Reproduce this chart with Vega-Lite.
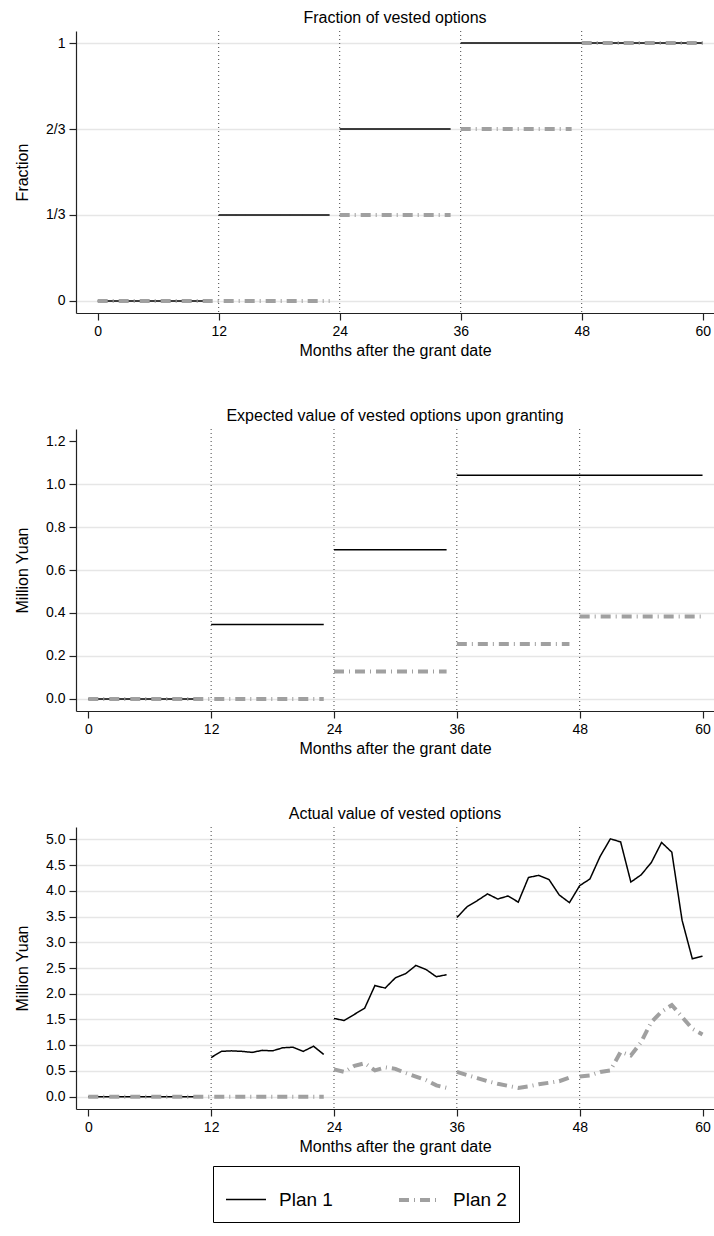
{
  "$schema": "https://vega.github.io/schema/vega-lite/v6.json",
  "background": "white",
  "padding": {"left": 14, "top": 9, "right": 0, "bottom": 10},
  "spacing": 49,
  "config": {
    "font": "Liberation Sans",
    "view": {"stroke": null},
    "title": {"fontSize": 16, "fontWeight": "normal", "color": "black", "offset": 5},
    "axis": {"labelFontSize": 14, "labelColor": "black", "titleFontSize": 16, "titleFontWeight": "normal", "titleColor": "black", "domainColor": "#222222", "tickColor": "#222222", "domainWidth": 1.2, "tickWidth": 1.2, "tickSize": 7, "labelPadding": 4},
    "axisX": {"grid": false, "titlePadding": 4, "labelFlush": false},
    "axisY": {"gridColor": "#e6e6e6", "gridWidth": 1.5, "titlePadding": 10, "minExtent": 36, "maxExtent": 36},
    "legend": {"orient": "none", "legendX": 137, "legendY": 1135, "direction": "horizontal", "strokeColor": "black", "padding": 12, "labelFontSize": 19, "labelColor": "black", "symbolSize": 1600, "columnPadding": 58, "labelOffset": 12}
  },
  "datasets": {
    "frac": [
      {"plan": "Plan 1", "seg": 1, "month": 0, "value": 0},
      {"plan": "Plan 1", "seg": 1, "month": 11, "value": 0},
      {"plan": "Plan 1", "seg": 2, "month": 12, "value": 0.3333333333333333},
      {"plan": "Plan 1", "seg": 2, "month": 23, "value": 0.3333333333333333},
      {"plan": "Plan 1", "seg": 3, "month": 24, "value": 0.6666666666666666},
      {"plan": "Plan 1", "seg": 3, "month": 35, "value": 0.6666666666666666},
      {"plan": "Plan 1", "seg": 4, "month": 36, "value": 1},
      {"plan": "Plan 1", "seg": 4, "month": 60, "value": 1},
      {"plan": "Plan 2", "seg": 1, "month": 0, "value": 0},
      {"plan": "Plan 2", "seg": 1, "month": 23, "value": 0},
      {"plan": "Plan 2", "seg": 2, "month": 24, "value": 0.3333333333333333},
      {"plan": "Plan 2", "seg": 2, "month": 35, "value": 0.3333333333333333},
      {"plan": "Plan 2", "seg": 3, "month": 36, "value": 0.6666666666666666},
      {"plan": "Plan 2", "seg": 3, "month": 47, "value": 0.6666666666666666},
      {"plan": "Plan 2", "seg": 4, "month": 48, "value": 1},
      {"plan": "Plan 2", "seg": 4, "month": 60, "value": 1}
    ],
    "expected": [
      {"plan": "Plan 1", "seg": 1, "month": 0, "value": 0},
      {"plan": "Plan 1", "seg": 1, "month": 11, "value": 0},
      {"plan": "Plan 1", "seg": 2, "month": 12, "value": 0.347},
      {"plan": "Plan 1", "seg": 2, "month": 23, "value": 0.347},
      {"plan": "Plan 1", "seg": 3, "month": 24, "value": 0.694},
      {"plan": "Plan 1", "seg": 3, "month": 35, "value": 0.694},
      {"plan": "Plan 1", "seg": 4, "month": 36, "value": 1.041},
      {"plan": "Plan 1", "seg": 4, "month": 60, "value": 1.041},
      {"plan": "Plan 2", "seg": 1, "month": 0, "value": 0},
      {"plan": "Plan 2", "seg": 1, "month": 23, "value": 0},
      {"plan": "Plan 2", "seg": 2, "month": 24, "value": 0.128},
      {"plan": "Plan 2", "seg": 2, "month": 35, "value": 0.128},
      {"plan": "Plan 2", "seg": 3, "month": 36, "value": 0.256},
      {"plan": "Plan 2", "seg": 3, "month": 47, "value": 0.256},
      {"plan": "Plan 2", "seg": 4, "month": 48, "value": 0.384},
      {"plan": "Plan 2", "seg": 4, "month": 60, "value": 0.384}
    ],
    "actual": [
      {"plan": "Plan 1", "seg": 1, "month": 0, "value": 0},
      {"plan": "Plan 1", "seg": 1, "month": 1, "value": 0},
      {"plan": "Plan 1", "seg": 1, "month": 2, "value": 0},
      {"plan": "Plan 1", "seg": 1, "month": 3, "value": 0},
      {"plan": "Plan 1", "seg": 1, "month": 4, "value": 0},
      {"plan": "Plan 1", "seg": 1, "month": 5, "value": 0},
      {"plan": "Plan 1", "seg": 1, "month": 6, "value": 0},
      {"plan": "Plan 1", "seg": 1, "month": 7, "value": 0},
      {"plan": "Plan 1", "seg": 1, "month": 8, "value": 0},
      {"plan": "Plan 1", "seg": 1, "month": 9, "value": 0},
      {"plan": "Plan 1", "seg": 1, "month": 10, "value": 0},
      {"plan": "Plan 1", "seg": 1, "month": 11, "value": 0},
      {"plan": "Plan 1", "seg": 2, "month": 12, "value": 0.76},
      {"plan": "Plan 1", "seg": 2, "month": 13, "value": 0.88},
      {"plan": "Plan 1", "seg": 2, "month": 14, "value": 0.89},
      {"plan": "Plan 1", "seg": 2, "month": 15, "value": 0.88},
      {"plan": "Plan 1", "seg": 2, "month": 16, "value": 0.86},
      {"plan": "Plan 1", "seg": 2, "month": 17, "value": 0.9},
      {"plan": "Plan 1", "seg": 2, "month": 18, "value": 0.89},
      {"plan": "Plan 1", "seg": 2, "month": 19, "value": 0.95},
      {"plan": "Plan 1", "seg": 2, "month": 20, "value": 0.96},
      {"plan": "Plan 1", "seg": 2, "month": 21, "value": 0.88},
      {"plan": "Plan 1", "seg": 2, "month": 22, "value": 0.98},
      {"plan": "Plan 1", "seg": 2, "month": 23, "value": 0.82},
      {"plan": "Plan 1", "seg": 3, "month": 24, "value": 1.52},
      {"plan": "Plan 1", "seg": 3, "month": 25, "value": 1.48},
      {"plan": "Plan 1", "seg": 3, "month": 26, "value": 1.6},
      {"plan": "Plan 1", "seg": 3, "month": 27, "value": 1.72},
      {"plan": "Plan 1", "seg": 3, "month": 28, "value": 2.16},
      {"plan": "Plan 1", "seg": 3, "month": 29, "value": 2.11},
      {"plan": "Plan 1", "seg": 3, "month": 30, "value": 2.31},
      {"plan": "Plan 1", "seg": 3, "month": 31, "value": 2.39},
      {"plan": "Plan 1", "seg": 3, "month": 32, "value": 2.55},
      {"plan": "Plan 1", "seg": 3, "month": 33, "value": 2.47},
      {"plan": "Plan 1", "seg": 3, "month": 34, "value": 2.33},
      {"plan": "Plan 1", "seg": 3, "month": 35, "value": 2.37},
      {"plan": "Plan 1", "seg": 4, "month": 36, "value": 3.48},
      {"plan": "Plan 1", "seg": 4, "month": 37, "value": 3.69},
      {"plan": "Plan 1", "seg": 4, "month": 38, "value": 3.81},
      {"plan": "Plan 1", "seg": 4, "month": 39, "value": 3.94},
      {"plan": "Plan 1", "seg": 4, "month": 40, "value": 3.84},
      {"plan": "Plan 1", "seg": 4, "month": 41, "value": 3.9},
      {"plan": "Plan 1", "seg": 4, "month": 42, "value": 3.78},
      {"plan": "Plan 1", "seg": 4, "month": 43, "value": 4.26},
      {"plan": "Plan 1", "seg": 4, "month": 44, "value": 4.3},
      {"plan": "Plan 1", "seg": 4, "month": 45, "value": 4.22},
      {"plan": "Plan 1", "seg": 4, "month": 46, "value": 3.92},
      {"plan": "Plan 1", "seg": 4, "month": 47, "value": 3.77},
      {"plan": "Plan 1", "seg": 4, "month": 48, "value": 4.1},
      {"plan": "Plan 1", "seg": 4, "month": 49, "value": 4.23},
      {"plan": "Plan 1", "seg": 4, "month": 50, "value": 4.67},
      {"plan": "Plan 1", "seg": 4, "month": 51, "value": 5.01},
      {"plan": "Plan 1", "seg": 4, "month": 52, "value": 4.95},
      {"plan": "Plan 1", "seg": 4, "month": 53, "value": 4.17},
      {"plan": "Plan 1", "seg": 4, "month": 54, "value": 4.31},
      {"plan": "Plan 1", "seg": 4, "month": 55, "value": 4.55},
      {"plan": "Plan 1", "seg": 4, "month": 56, "value": 4.94},
      {"plan": "Plan 1", "seg": 4, "month": 57, "value": 4.75},
      {"plan": "Plan 1", "seg": 4, "month": 58, "value": 3.43},
      {"plan": "Plan 1", "seg": 4, "month": 59, "value": 2.68},
      {"plan": "Plan 1", "seg": 4, "month": 60, "value": 2.73},
      {"plan": "Plan 2", "seg": 1, "month": 0, "value": 0},
      {"plan": "Plan 2", "seg": 1, "month": 1, "value": 0},
      {"plan": "Plan 2", "seg": 1, "month": 2, "value": 0},
      {"plan": "Plan 2", "seg": 1, "month": 3, "value": 0},
      {"plan": "Plan 2", "seg": 1, "month": 4, "value": 0},
      {"plan": "Plan 2", "seg": 1, "month": 5, "value": 0},
      {"plan": "Plan 2", "seg": 1, "month": 6, "value": 0},
      {"plan": "Plan 2", "seg": 1, "month": 7, "value": 0},
      {"plan": "Plan 2", "seg": 1, "month": 8, "value": 0},
      {"plan": "Plan 2", "seg": 1, "month": 9, "value": 0},
      {"plan": "Plan 2", "seg": 1, "month": 10, "value": 0},
      {"plan": "Plan 2", "seg": 1, "month": 11, "value": 0},
      {"plan": "Plan 2", "seg": 1, "month": 12, "value": 0},
      {"plan": "Plan 2", "seg": 1, "month": 13, "value": 0},
      {"plan": "Plan 2", "seg": 1, "month": 14, "value": 0},
      {"plan": "Plan 2", "seg": 1, "month": 15, "value": 0},
      {"plan": "Plan 2", "seg": 1, "month": 16, "value": 0},
      {"plan": "Plan 2", "seg": 1, "month": 17, "value": 0},
      {"plan": "Plan 2", "seg": 1, "month": 18, "value": 0},
      {"plan": "Plan 2", "seg": 1, "month": 19, "value": 0},
      {"plan": "Plan 2", "seg": 1, "month": 20, "value": 0},
      {"plan": "Plan 2", "seg": 1, "month": 21, "value": 0},
      {"plan": "Plan 2", "seg": 1, "month": 22, "value": 0},
      {"plan": "Plan 2", "seg": 1, "month": 23, "value": 0},
      {"plan": "Plan 2", "seg": 2, "month": 24, "value": 0.53},
      {"plan": "Plan 2", "seg": 2, "month": 25, "value": 0.48},
      {"plan": "Plan 2", "seg": 2, "month": 26, "value": 0.6},
      {"plan": "Plan 2", "seg": 2, "month": 27, "value": 0.65},
      {"plan": "Plan 2", "seg": 2, "month": 28, "value": 0.51},
      {"plan": "Plan 2", "seg": 2, "month": 29, "value": 0.57},
      {"plan": "Plan 2", "seg": 2, "month": 30, "value": 0.54},
      {"plan": "Plan 2", "seg": 2, "month": 31, "value": 0.46},
      {"plan": "Plan 2", "seg": 2, "month": 32, "value": 0.39},
      {"plan": "Plan 2", "seg": 2, "month": 33, "value": 0.32},
      {"plan": "Plan 2", "seg": 2, "month": 34, "value": 0.22},
      {"plan": "Plan 2", "seg": 2, "month": 35, "value": 0.17},
      {"plan": "Plan 2", "seg": 3, "month": 36, "value": 0.48},
      {"plan": "Plan 2", "seg": 3, "month": 37, "value": 0.42},
      {"plan": "Plan 2", "seg": 3, "month": 38, "value": 0.36},
      {"plan": "Plan 2", "seg": 3, "month": 39, "value": 0.3},
      {"plan": "Plan 2", "seg": 3, "month": 40, "value": 0.25},
      {"plan": "Plan 2", "seg": 3, "month": 41, "value": 0.21},
      {"plan": "Plan 2", "seg": 3, "month": 42, "value": 0.17},
      {"plan": "Plan 2", "seg": 3, "month": 43, "value": 0.2},
      {"plan": "Plan 2", "seg": 3, "month": 44, "value": 0.24},
      {"plan": "Plan 2", "seg": 3, "month": 45, "value": 0.27},
      {"plan": "Plan 2", "seg": 3, "month": 46, "value": 0.3},
      {"plan": "Plan 2", "seg": 3, "month": 47, "value": 0.37},
      {"plan": "Plan 2", "seg": 4, "month": 48, "value": 0.39},
      {"plan": "Plan 2", "seg": 4, "month": 49, "value": 0.41},
      {"plan": "Plan 2", "seg": 4, "month": 50, "value": 0.48},
      {"plan": "Plan 2", "seg": 4, "month": 51, "value": 0.51},
      {"plan": "Plan 2", "seg": 4, "month": 52, "value": 0.87},
      {"plan": "Plan 2", "seg": 4, "month": 53, "value": 0.8},
      {"plan": "Plan 2", "seg": 4, "month": 54, "value": 1.06},
      {"plan": "Plan 2", "seg": 4, "month": 55, "value": 1.45},
      {"plan": "Plan 2", "seg": 4, "month": 56, "value": 1.65},
      {"plan": "Plan 2", "seg": 4, "month": 57, "value": 1.78},
      {"plan": "Plan 2", "seg": 4, "month": 58, "value": 1.55},
      {"plan": "Plan 2", "seg": 4, "month": 59, "value": 1.32},
      {"plan": "Plan 2", "seg": 4, "month": 60, "value": 1.21}
    ],
    "vesting": [
      {"month": 12}, {"month": 24}, {"month": 36}, {"month": 48}
    ]
  },
  "vconcat": [
    {
      "title": "Fraction of vested options",
      "width": 638,
      "height": 282,
      "encoding": {
        "x": {"field": "month", "type": "quantitative", "scale": {"domain": [-2.15, 61.12], "nice": false, "zero": false}, "axis": {"values": [0, 12, 24, 36, 48, 60], "title": "Months after the grant date"}}
      },
      "layer": [
        {"data": {"name": "vesting"}, "mark": {"type": "rule", "strokeDash": [1, 3], "color": "#444444", "strokeWidth": 1}},
        {
          "data": {"name": "frac"},
          "mark": {"type": "line"},
          "encoding": {
            "y": {"field": "value", "type": "quantitative", "scale": {"domain": [-0.0466, 1.0466], "nice": false, "zero": false}, "axis": {"values": [0, 0.3333333333333333, 0.6666666666666666, 1], "labelExpr": "datum.value == 0 ? '0' : datum.value == 1 ? '1' : datum.value < 0.5 ? '1/3' : '2/3'", "title": "Fraction"}},
            "color": {"field": "plan", "type": "nominal", "scale": {"domain": ["Plan 1", "Plan 2"], "range": ["black", "#a0a0a0"]}, "legend": {"title": null}},
            "strokeDash": {"field": "plan", "type": "nominal", "scale": {"domain": ["Plan 1", "Plan 2"], "range": [[1, 0], [10, 5, 1, 5]]}, "legend": {"title": null}},
            "strokeWidth": {"field": "plan", "type": "nominal", "scale": {"domain": ["Plan 1", "Plan 2"], "range": [1.5, 4]}, "legend": {"title": null}},
            "detail": {"field": "seg", "type": "nominal"}
          }
        }
      ]
    },
    {
      "title": "Expected value of vested options upon granting",
      "width": 638,
      "height": 282,
      "encoding": {
        "x": {"field": "month", "type": "quantitative", "scale": {"domain": [-1.2, 61.12], "nice": false, "zero": false}, "axis": {"values": [0, 12, 24, 36, 48, 60], "title": "Months after the grant date"}}
      },
      "layer": [
        {"data": {"name": "vesting"}, "mark": {"type": "rule", "strokeDash": [1, 3], "color": "#444444", "strokeWidth": 1}},
        {
          "data": {"name": "expected"},
          "mark": {"type": "line"},
          "encoding": {
            "y": {"field": "value", "type": "quantitative", "scale": {"domain": [-0.056, 1.256], "nice": false, "zero": false}, "axis": {"values": [0, 0.2, 0.4, 0.6, 0.8, 1.0, 1.2], "format": ".1f", "title": "Million Yuan", "gridOpacity": {"condition": {"test": "datum.value > 1.1", "value": 0}, "value": 1}}},
            "color": {"field": "plan", "type": "nominal", "scale": {"domain": ["Plan 1", "Plan 2"], "range": ["black", "#a0a0a0"]}, "legend": {"title": null}},
            "strokeDash": {"field": "plan", "type": "nominal", "scale": {"domain": ["Plan 1", "Plan 2"], "range": [[1, 0], [10, 5, 1, 5]]}, "legend": {"title": null}},
            "strokeWidth": {"field": "plan", "type": "nominal", "scale": {"domain": ["Plan 1", "Plan 2"], "range": [1.5, 4]}, "legend": {"title": null}},
            "detail": {"field": "seg", "type": "nominal"}
          }
        }
      ]
    },
    {
      "title": "Actual value of vested options",
      "width": 638,
      "height": 282,
      "encoding": {
        "x": {"field": "month", "type": "quantitative", "scale": {"domain": [-1.2, 61.12], "nice": false, "zero": false}, "axis": {"values": [0, 12, 24, 36, 48, 60], "title": "Months after the grant date"}}
      },
      "layer": [
        {"data": {"name": "vesting"}, "mark": {"type": "rule", "strokeDash": [1, 3], "color": "#444444", "strokeWidth": 1}},
        {
          "data": {"name": "actual"},
          "mark": {"type": "line"},
          "encoding": {
            "y": {"field": "value", "type": "quantitative", "scale": {"domain": [-0.24, 5.24], "nice": false, "zero": false}, "axis": {"values": [0, 0.5, 1, 1.5, 2, 2.5, 3, 3.5, 4, 4.5, 5], "format": ".1f", "title": "Million Yuan"}},
            "color": {"field": "plan", "type": "nominal", "scale": {"domain": ["Plan 1", "Plan 2"], "range": ["black", "#a0a0a0"]}, "legend": {"title": null}},
            "strokeDash": {"field": "plan", "type": "nominal", "scale": {"domain": ["Plan 1", "Plan 2"], "range": [[1, 0], [10, 5, 1, 5]]}, "legend": {"title": null}},
            "strokeWidth": {"field": "plan", "type": "nominal", "scale": {"domain": ["Plan 1", "Plan 2"], "range": [1.5, 4]}, "legend": {"title": null}},
            "detail": {"field": "seg", "type": "nominal"}
          }
        }
      ]
    }
  ]
}
